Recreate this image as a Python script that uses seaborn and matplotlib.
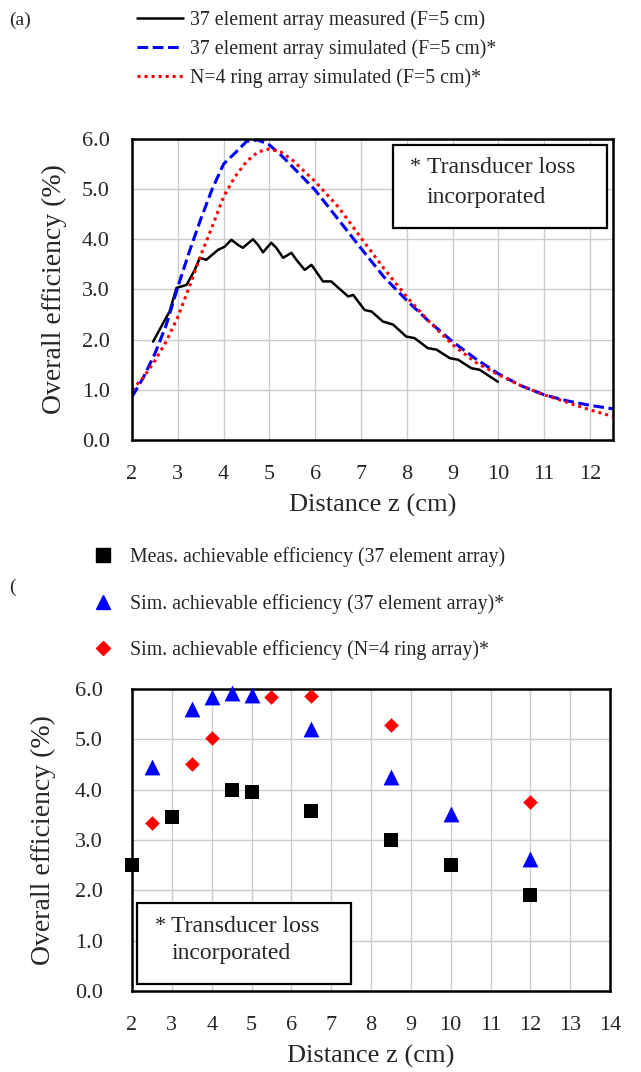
import numpy as np
import pandas as pd
import matplotlib.pyplot as plt
import matplotlib.patches as mpatches
import seaborn as sns

sns.set_style("white")
plt.rcParams['font.family'] = ['Liberation Serif', 'DejaVu Serif']

# ---- panel (a): efficiency vs distance curves ----
z_meas = [2.46, 2.68, 2.82, 2.97, 3.19, 3.37, 3.48, 3.62, 3.88, 4.02, 4.17, 4.31, 4.42,
          4.64, 4.75, 4.86, 5.04, 5.15, 5.30, 5.48, 5.59, 5.77, 5.92, 6.17, 6.35, 6.46,
          6.72, 6.83, 7.08, 7.23, 7.48, 7.70, 7.99, 8.17, 8.46, 8.65, 8.94, 9.12, 9.41,
          9.59, 9.99]
eff_meas = [1.96, 2.33, 2.56, 3.03, 3.09, 3.39, 3.63, 3.59, 3.79, 3.85, 3.99, 3.89, 3.83,
            4.00, 3.89, 3.74, 3.93, 3.83, 3.63, 3.73, 3.59, 3.39, 3.49, 3.16, 3.16, 3.07,
            2.86, 2.89, 2.59, 2.56, 2.36, 2.30, 2.06, 2.03, 1.83, 1.80, 1.63, 1.60, 1.43,
            1.40, 1.16]

z_sim = [2.0, 2.25, 2.5, 2.75, 3.0, 3.25, 3.5, 3.75, 4.0, 4.25, 4.5, 4.75, 5.0, 5.25,
         5.5, 6.0, 6.5, 7.0, 7.5, 8.0, 8.5, 9.0, 9.5, 10.0, 10.5, 11.0, 11.5, 12.0, 12.5]
eff_sim37 = [0.86, 1.25, 1.72, 2.30, 3.05, 3.75, 4.40, 5.00, 5.50, 5.72, 5.95, 5.98, 5.88,
             5.68, 5.45, 4.98, 4.40, 3.82, 3.25, 2.78, 2.35, 1.96, 1.62, 1.32, 1.08, 0.90,
             0.78, 0.69, 0.62]
eff_ring = [1.00, 1.25, 1.58, 1.97, 2.45, 3.05, 3.68, 4.25, 4.85, 5.25, 5.55, 5.74, 5.80,
            5.74, 5.58, 5.15, 4.65, 4.03, 3.42, 2.85, 2.35, 1.90, 1.55, 1.30, 1.08, 0.90,
            0.75, 0.60, 0.47]

lab_a = ["37 element array measured (F=5 cm)",
         "37 element array simulated (F=5 cm)*",
         "N=4 ring array simulated (F=5 cm)*"]

# ---- panel (b): achievable efficiency points ----
z_b_meas = [2, 3, 4.5, 5, 6.5, 8.5, 10, 12]
eff_b_meas = [2.5, 3.45, 4.0, 3.95, 3.57, 3.0, 2.5, 1.9]
z_b_sim37 = [2.5, 3.5, 4, 4.5, 5, 6.5, 8.5, 10, 12]
eff_b_sim37 = [4.45, 5.6, 5.85, 5.92, 5.88, 5.2, 4.25, 3.52, 2.62]
z_b_ring = [2.5, 3.5, 4, 5.5, 6.5, 8.5, 12]
eff_b_ring = [3.33, 4.5, 5.03, 5.85, 5.87, 5.28, 3.75]

lab_b = ["Meas. achievable efficiency (37 element array)",
         "Sim. achievable efficiency (37 element array)*",
         "Sim. achievable efficiency (N=4 ring array)*"]

df_a = pd.concat([
    pd.DataFrame({"z": z_meas, "eff": eff_meas, "series": lab_a[0]}),
    pd.DataFrame({"z": z_sim, "eff": eff_sim37, "series": lab_a[1]}),
    pd.DataFrame({"z": z_sim, "eff": eff_ring, "series": lab_a[2]}),
])

colors = ["black", "#0000ff", "#ff0000"]
markers = ["s", "^", "D"]

fig = plt.figure(figsize=(6.41, 10.72), dpi=100)
ax1 = fig.add_axes([0.206, 0.5896, 0.750, 0.2808])
ax2 = fig.add_axes([0.206, 0.0756, 0.7457, 0.2817])

sns.lineplot(data=df_a, x="z", y="eff", hue="series", style="series",
             palette=dict(zip(lab_a, colors)),
             dashes={lab_a[0]: "", lab_a[1]: (3.5, 1.5), lab_a[2]: (1, 1.3)},
             estimator=None, sort=False, linewidth=2.2, legend=False, ax=ax1)
ax1.lines[0].set_linewidth(1.8)

for zz, ee, m, c, sz in zip([z_b_meas, z_b_sim37, z_b_ring],
                            [eff_b_meas, eff_b_sim37, eff_b_ring],
                            markers, colors, [110, 130, 55]):
    sns.scatterplot(x=zz, y=ee, marker=m, color=c, s=sz, linewidth=0,
                    legend=False, ax=ax2, zorder=5, clip_on=False)

for ax, xmax, ypad, lpad in ((ax1, 12.5, 16, 11), (ax2, 14, 21, 14)):
    ax.set_xlim(2, xmax)
    ax.set_ylim(0, 6)
    ax.set_xticks(range(2, int(xmax) + 1))
    ax.set_yticks(np.arange(0, 6.01, 1))
    ax.set_yticklabels([f"{v:.1f}" for v in np.arange(0, 6.01, 1)])
    ax.grid(True, color="#cccccc", linewidth=1.0)
    ax.set_axisbelow(True)
    ax.tick_params(length=0, labelsize=16)
    ax.tick_params(axis="x", pad=18)
    ax.tick_params(axis="y", pad=ypad)
    for sp in ax.spines.values():
        sp.set_visible(True)
        sp.set_color("black")
        sp.set_linewidth(1.8)
    ax.set_xlabel("Distance z (cm)", fontsize=19, labelpad=7)
    ax.set_ylabel("Overall efficiency (%)", fontsize=20, labelpad=lpad)

# legends in figure space, above each panel
h_a = [plt.Line2D([], [], color=colors[0], lw=1.8),
       plt.Line2D([], [], color=colors[1], lw=2.2, dashes=(3.5, 1.5)),
       plt.Line2D([], [], color=colors[2], lw=2.2, dashes=(1, 1.3))]
fig.legend(h_a, lab_a, loc="upper left", bbox_to_anchor=(0.199, 1.0),
           frameon=False, fontsize=14.3, handlelength=2.3, handletextpad=0.35,
           labelspacing=0.48, borderpad=0)

h_b = [plt.Line2D([], [], ls="", marker=m, color=c, markersize=ms)
       for m, c, ms in zip(markers, colors, [10, 10, 7])]
fig.legend(h_b, lab_b, loc="upper left", bbox_to_anchor=(0.130, 0.499),
           frameon=False, fontsize=14.3, handlelength=1.0, handletextpad=0.85,
           labelspacing=1.35, borderpad=0)

fig.text(0.015, 0.981, "(a)", fontsize=14, va="center")
fig.text(0.015, 0.452, "(", fontsize=14, va="center")

# "Transducer loss" note boxes
ax1.add_patch(mpatches.Rectangle((0.543, 0.704), 0.445, 0.276, transform=ax1.transAxes,
                                 fill=True, facecolor="white", edgecolor="black",
                                 linewidth=1.6, zorder=6))
ax1.text(0.578, 0.904, "*", transform=ax1.transAxes, fontsize=16, va="center", zorder=7)
ax1.text(0.613, 0.904, "Transducer loss", transform=ax1.transAxes, fontsize=17,
         va="center", zorder=7)
ax1.text(0.613, 0.807, "incorporated", transform=ax1.transAxes, fontsize=17,
         va="center", zorder=7)

ax2.add_patch(mpatches.Rectangle((0.010, 0.023), 0.448, 0.268, transform=ax2.transAxes,
                                 fill=True, facecolor="white", edgecolor="black",
                                 linewidth=1.6, zorder=6))
ax2.text(0.048, 0.215, "*", transform=ax2.transAxes, fontsize=16, va="center", zorder=7)
ax2.text(0.082, 0.215, "Transducer loss", transform=ax2.transAxes, fontsize=17,
         va="center", zorder=7)
ax2.text(0.082, 0.123, "incorporated", transform=ax2.transAxes, fontsize=17,
         va="center", zorder=7)

fig.savefig("out.png", dpi=100)
